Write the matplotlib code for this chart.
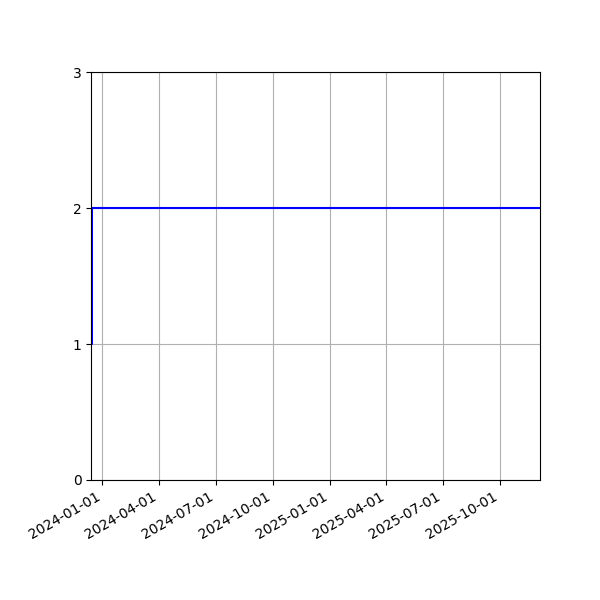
import matplotlib
matplotlib.use("Agg")
import matplotlib.pyplot as plt
import matplotlib.dates as mdates
import numpy as np
import datetime as dt

dates = [dt.date(2023, 12, 14), dt.date(2023, 12, 16), dt.date(2025, 12, 4)]
values = [1, 2, 2]
yticks = [0, 1, 2, 3]

fig, ax = plt.subplots(figsize=(6, 6), dpi=100)
ax.plot(dates, values, color="blue", linewidth=1.5, drawstyle="steps-post")
ax.set_xlim(dates[0], dates[-1])
ax.set_ylim(0, 3)
ax.set_yticks(yticks)
ax.xaxis.set_major_locator(mdates.MonthLocator(bymonth=[1, 4, 7, 10]))
ax.xaxis.set_major_formatter(mdates.DateFormatter("%Y-%m-%d"))
ax.grid(True)
fig.autofmt_xdate()
fig.subplots_adjust(left=0.152, right=0.9, top=0.88, bottom=0.2)
fig.savefig("out.png")
